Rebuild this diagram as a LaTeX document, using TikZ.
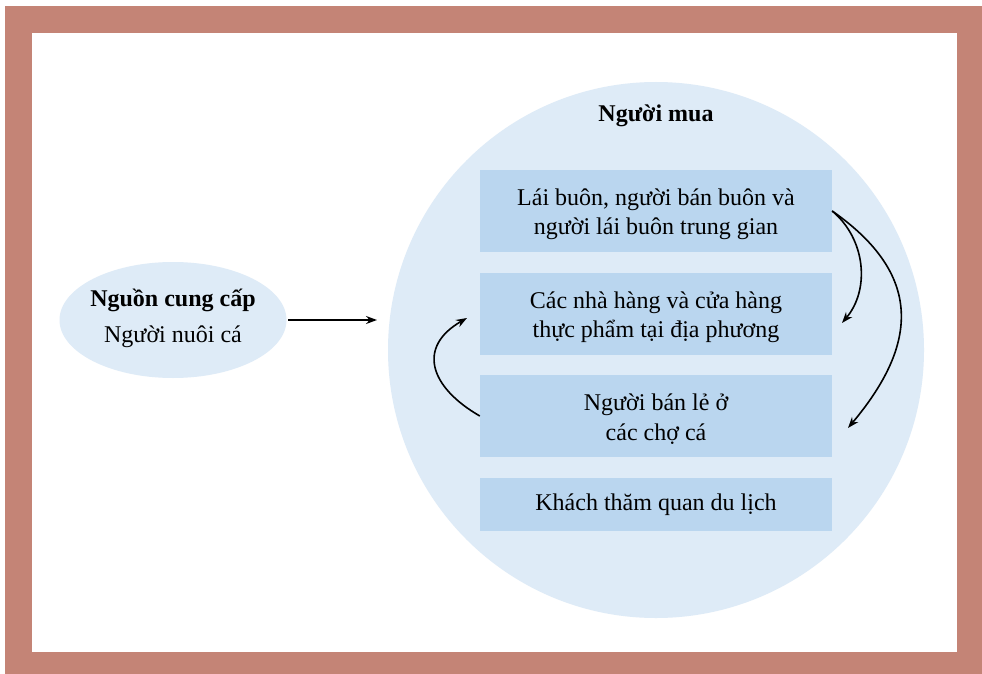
\documentclass[tikz,border=0pt]{standalone}
\usepackage{fontspec}
\setmainfont{Liberation Serif}
\usetikzlibrary{arrows.meta,shapes.geometric}
\definecolor{khung}{RGB}{196,132,118}
\definecolor{nennhat}{RGB}{222,235,247}
\definecolor{nenhop}{RGB}{186,214,239}
\begin{document}
\begin{tikzpicture}[x=1pt, y=-1pt,
	chu/.style={font=\fontsize{24}{29.5}\selectfont},
	chudam/.style={font=\fontsize{24}{29.5}\selectfont\bfseries},
	hop/.style={chu, fill=nenhop, minimum width=352pt, minimum height=82pt, align=center},
	muiten/.style={line width=1.6pt, -{Stealth[length=11pt, width=8pt]}}]
			\useasboundingbox (0,0) rectangle (982,674);
			\fill[khung] (5,6) rectangle (982,674);
			\fill[white] (32,33) rectangle (957,652);

			\draw node[ellipse, fill=nennhat, minimum width=227pt, minimum height=116pt] (nguon) at (173,320) {};
			\node[chudam] (tennguon) at (173,300) {Nguồn cung cấp};
			\node[chu] (nuoica) at (173,337) {Người nuôi cá};
			\draw node[circle, fill=nennhat, minimum size=536pt] (mua) at (656,350) {};
			\node[chudam] (tenmua) at (656,116) {Người mua};

			\draw node[hop] (1) at (656,211) {};
			\draw node[hop] (2) at (656,314) {};
			\draw node[hop] (3) at (656,416) {};
			\draw node[hop, minimum height=53pt] (4) at (656,504) {};
			\node[chu, align=center] (t1) at (656,214) {Lái buôn, người bán buôn và\\người lái buôn trung gian};
			\node[chu, align=center] (t2) at (656,317) {Các nhà hàng và cửa hàng\\thực phẩm tại địa phương};
			\node[chu, align=center] (t3) at (656,419) {Người bán lẻ ở\\các chợ cá};
			\node[chu] (t4) at (656,505) {Khách thăm quan du lịch};

			\coordinate (a) at (842,323);
			\coordinate (b) at (848,428);
			\coordinate (c) at (467,318);
			\coordinate (d) at (288,320);
			\coordinate (e) at (377,320);

			\draw[muiten] (d) -- (e);
			\draw[muiten] (1.east) to[out=-40, in=50] (a);
			\draw[muiten] (1.east) to[out=-35, in=50, looseness=1.3] (b);
			\draw[muiten] (3.west) to[out=150, in=210, looseness=1.5] (c);
		\end{tikzpicture}
\end{document}
